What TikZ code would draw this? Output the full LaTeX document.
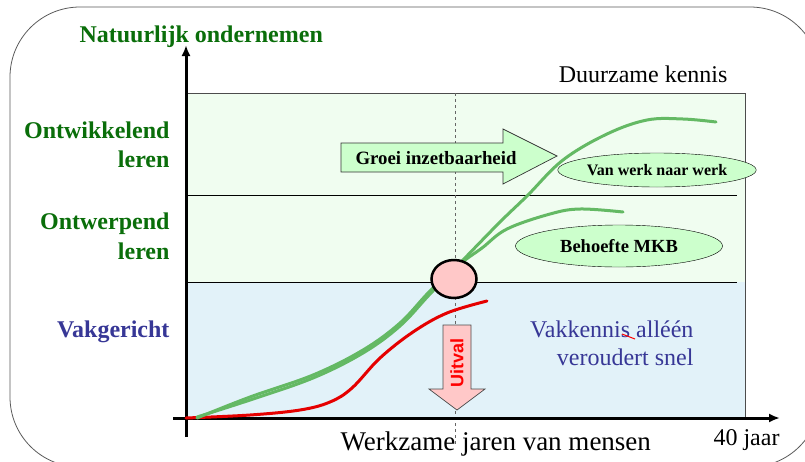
\documentclass[tikz,border=0pt]{standalone}
\usepackage{fontspec}
\setmainfont{Liberation Serif}
\newfontfamily\arialfont{Liberation Sans}
\usetikzlibrary{shapes.geometric,arrows.meta}

\definecolor{labelgreen}{RGB}{10,110,10}
\definecolor{labelblue}{RGB}{55,55,150}
\definecolor{regiongreen}{RGB}{240,253,240}
\definecolor{regionblue}{RGB}{226,242,249}
\definecolor{boxgreen}{RGB}{204,255,204}
\definecolor{curvegreen}{RGB}{100,185,100}
\definecolor{uitvalpink}{RGB}{255,200,200}

\begin{document}
\begin{tikzpicture}[x=1pt,y=-1pt,
    levellabel/.style={font=\fontsize{24}{26}\selectfont\bfseries, anchor=base east},
    plaintext/.style={font=\fontsize{24}{26}\selectfont, anchor=base east},
    bubble/.style={draw=black, fill=boxgreen, ellipse, inner sep=0pt, font=\bfseries},
    curve/.style={line width=3pt, line cap=round}]

    % Define region sizes
    \def\xleft{186}
    \def\xright{745}
    \def\ytop{93}
    \def\ymid{195}
    \def\ylow{282}
    \def\ybase{418}

    \useasboundingbox (0,0) rectangle (805,461);
    \clip (0,0) rectangle (805,461);

    % Outer frame
    \draw[gray!70!black, line width=0.8pt, rounded corners=70pt] (10,7) rectangle (820,467);

    % Regions
    \fill[regiongreen] (\xleft,\ytop) rectangle (\xright,\ylow);
    \fill[regionblue] (\xleft,\ylow) rectangle (\xright,\ybase);
    \draw[gray!60!black, line width=0.8pt] (\xleft,\ytop) -- (\xright,\ytop) -- (\xright,\ybase);
    \draw[line width=0.8pt] (\xleft,\ymid) -- (737,\ymid);
    \draw[line width=0.8pt] (\xleft,\ylow) -- (737,\ylow);
    \draw[gray!80!black, dashed, line width=0.9pt] (455,\ytop) -- (455,446);

    % Axes
    \coordinate (ybottom) at (\xleft,437);
    \coordinate (ytopend) at (\xleft,45);
    \coordinate (xleftend) at (173,\ybase);
    \coordinate (xrightend) at (780,\ybase);
    \draw[line width=3pt, -{Latex[length=11pt,width=9pt]}] (ybottom) -- (ytopend);
    \draw[line width=3pt, -{Latex[length=11pt,width=9pt]}] (xleftend) -- (xrightend);

    % Categories
    \node[levellabel, labelgreen, anchor=base west] (natuurlijk) at (76,42) {Natuurlijk ondernemen};
    \node[levellabel, labelgreen] (ontwikkelend) at (173,138) {Ontwikkelend};
    \node[levellabel, labelgreen] (ontwikkelendleren) at (173,167) {leren};
    \node[levellabel, labelgreen] (ontwerpend) at (173,229) {Ontwerpend};
    \node[levellabel, labelgreen] (ontwerpendleren) at (173,259) {leren};
    \node[levellabel, labelblue] (vakgericht) at (173,337) {Vakgericht};
    \node[plaintext] (duurzaam) at (731,82) {Duurzame kennis};

    % Curves
    \draw[curve, red!90!black] plot[smooth, tension=0.6] coordinates {(186,418) (250,415) (300,410) (330,402) (352,388) (380,358) (413,332) (447,313) (487,301)};
    \draw[curve, curvegreen] plot[smooth, tension=0.6] coordinates {(197,418) (250,397) (313,375) (363,350) (400,323) (430,291) (460,264) (482,248) (507,229) (550,214) (580,209) (623,212)};
    \draw[curve, curvegreen] plot[smooth, tension=0.6] coordinates {(197,417) (250,400) (313,378) (363,353) (400,326) (430,294) (463,260) (500,222) (527,196) (563,160) (607,134) (647,120) (683,119) (716,122)};

    % Growth arrow
    \draw[black!80, fill=boxgreen, line width=0.7pt] (341,143) -- (503,143) -- (503,129) -- (557,156) -- (503,184) -- (503,172) -- (341,172) -- cycle;
    \node[font=\fontsize{18.8}{20}\selectfont\bfseries] (groei) at (436,158) {Groei inzetbaarheid};

    % Ellipses
    \node[bubble, minimum width=169pt, minimum height=34pt, font=\fontsize{16}{18}\selectfont\bfseries] (vanwerk) at (657,170) {Van werk naar werk};
    \node[bubble, minimum width=207pt, minimum height=42pt, font=\fontsize{18.5}{20}\selectfont\bfseries] (behoefte) at (619,246) {Behoefte MKB};

    % Turning point
    \node[draw=black, line width=2.5pt, fill=uitvalpink, ellipse, minimum width=45pt, minimum height=38pt, inner sep=0pt] (knik) at (454,279) {};

    % Drop-out arrow
    \draw[black!70, fill=uitvalpink, line width=0.7pt] (443,325) -- (471,325) -- (471,389) -- (485,389) -- (457,410) -- (429,389) -- (443,389) -- cycle;
    \node[rotate=90, text=red, font=\arialfont\fontsize{18}{20}\selectfont\bfseries] (uitval) at (457,363) {Uitval};

    % Knowledge text
    \node[plaintext, labelblue] (vakkennis) at (697,337) {Vakkennis alléén};
    \node[plaintext, labelblue] (veroudert) at (697,365) {veroudert snel};
    \draw[red, line width=1pt] (622,334) -- (635,339);

    % Axis labels
    \node[font=\fontsize{27}{29}\selectfont, anchor=base west] (werkzame) at (337,450) {Werkzame jaren van mensen};
    \node[font=\fontsize{24}{26}\selectfont, anchor=base west] (veertig) at (710,445) {40 jaar};
\end{tikzpicture}
\end{document}
